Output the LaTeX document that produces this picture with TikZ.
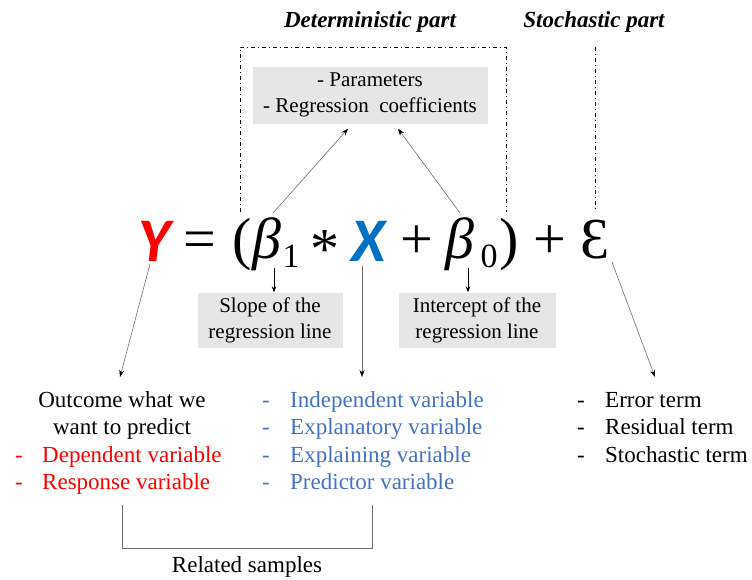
\documentclass[tikz,border=0pt]{standalone}
\usepackage{fontspec}
\setmainfont{Liberation Serif}
\newfontfamily\calib{Carlito}
\usetikzlibrary{arrows.meta}
\definecolor{myred}{RGB}{255,0,0}
\definecolor{xblue}{RGB}{0,112,192}
\definecolor{textblue}{RGB}{68,114,196}
\definecolor{boxgray}{RGB}{230,230,230}
\definecolor{linegray}{RGB}{110,110,110}
\begin{document}
\begin{tikzpicture}[x=1pt,y=-1pt,
  txt/.style={font=\fontsize{23}{27}\selectfont, inner sep=0pt},
  title/.style={font=\fontsize{23}{27}\selectfont\bfseries\itshape, inner sep=0pt},
  eq/.style={font=\fontsize{58}{58}\selectfont, inner sep=0pt, anchor=base},
  eqv/.style={font=\fontsize{62}{62}\selectfont\calib\bfseries\itshape, inner sep=0pt, anchor=base},
  sub/.style={font=\fontsize{34}{34}\selectfont, inner sep=0pt, anchor=base},
  gbox/.style={fill=boxgray, font=\fontsize{21}{26}\selectfont, align=center, inner sep=0pt},
  dd/.style={line width=0.9pt, dash pattern=on 4pt off 3pt on 1pt off 3pt},
  garrow/.style={draw=linegray, line width=0.6pt, -{Stealth[black,length=7pt,width=5pt]}},
  barrow/.style={draw=black, line width=0.6pt, -{Stealth[black,length=6pt,width=4.5pt]}}
]
\useasboundingbox (0,0) rectangle (752,579);

% titles
\node[title] (det) at (370,22) {Deterministic part};
\node[title] (sto) at (594,22) {Stochastic part};

% equation
\node[eqv, text=myred] (Y) at (155,261) {Y};
\node[eq] (eqs) at (200,258) {=};
\node[eq] (lp) at (242,258) {(};
\node[eq] (b1) at (267,258) {\itshape β};
\node[sub] (s1) at (291,267) {1};
\node[eq] (st) at (325,268) {*};
\node[eqv, text=xblue] (X) at (369,261) {X};
\node[eq] (pl1) at (417,258) {+};
\node[eq] (b0) at (460,258) {\itshape β};
\node[sub] (s0) at (489,267) {0};
\node[eq] (rp) at (509,258) {)};
\node[eq] (pl2) at (550,258) {+};
\node[eq] (eps) at (595,258) {Ɛ};

% dash-dot frames
\coordinate (dl) at (240,212);
\coordinate (dtl) at (240,47);
\coordinate (dtr) at (506,47);
\coordinate (dr) at (506,212);
\coordinate (st1) at (595,47);
\coordinate (st2) at (595,212);
\draw[dd] (dl) -- (dtl) -- (dtr) -- (dr);
\draw[dd] (st1) -- (st2);

% parameters box
\node[gbox, minimum width=235pt, minimum height=57pt] (par) at (370,95) {- Parameters\\- Regression\ \ coefficients};
\coordinate (pa1) at (273,213);
\coordinate (pa2) at (460,213);
\draw[garrow] (pa1) -- ([xshift=-22pt,yshift=-5pt]par.south);
\draw[garrow] (pa2) -- ([xshift=28pt,yshift=-5pt]par.south);

% slope / intercept boxes
\node[gbox, minimum width=145pt, minimum height=55pt] (slope) at (270,320) {Slope of the\\regression line};
\node[gbox, minimum width=157pt, minimum height=55pt] (icpt) at (477,320) {Intercept of the\\regression line};
\coordinate (sa) at (274,268);
\coordinate (ia) at (468,268);
\draw[barrow] (sa) -- (sa |- slope.north);
\draw[barrow] (ia) -- (ia |- icpt.north);

% long arrows
\coordinate (ya) at (150,264);
\coordinate (yb) at (120,377);
\coordinate (xa) at (362,266);
\coordinate (xb) at (362,377);
\coordinate (ea) at (612,262);
\coordinate (eb) at (655,377);
\draw[garrow] (ya) -- (yb);
\draw[garrow] (xa) -- (xb);
\draw[garrow] (ea) -- (eb);

% left column
\node[txt, anchor=base] (o1) at (122,407) {Outcome what we};
\node[txt, anchor=base] (o2) at (122,434) {want to predict};
\node[txt, anchor=base, text=myred] (ld1) at (19,462) {-};
\node[txt, anchor=base west, text=myred] (l1) at (42,462) {Dependent variable};
\node[txt, anchor=base, text=myred] (ld2) at (19,489) {-};
\node[txt, anchor=base west, text=myred] (l2) at (42,489) {Response variable};

% middle column
\foreach \yy/\tt [count=\i] in {407/Independent variable, 434/Explanatory variable, 462/Explaining variable, 489/Predictor variable}{
  \node[txt, anchor=base, text=textblue] (md\i) at (266,\yy) {-};
  \node[txt, anchor=base west, text=textblue] (m\i) at (290,\yy) {\tt};
}

% right column
\foreach \yy/\tt [count=\i] in {407/Error term, 434/Residual term, 462/Stochastic term}{
  \node[txt, anchor=base] (rd\i) at (581,\yy) {-};
  \node[txt, anchor=base west] (r\i) at (605,\yy) {\tt};
}

% bracket
\coordinate (bk1) at (122,505);
\coordinate (bk2) at (122,548);
\coordinate (bk3) at (372,548);
\coordinate (bk4) at (372,505);
\draw[linegray, line width=0.7pt] (bk1) -- (bk2) -- (bk3) -- (bk4);
\node[txt] (rel) at (247,567) {Related samples};
\end{tikzpicture}
\end{document}
